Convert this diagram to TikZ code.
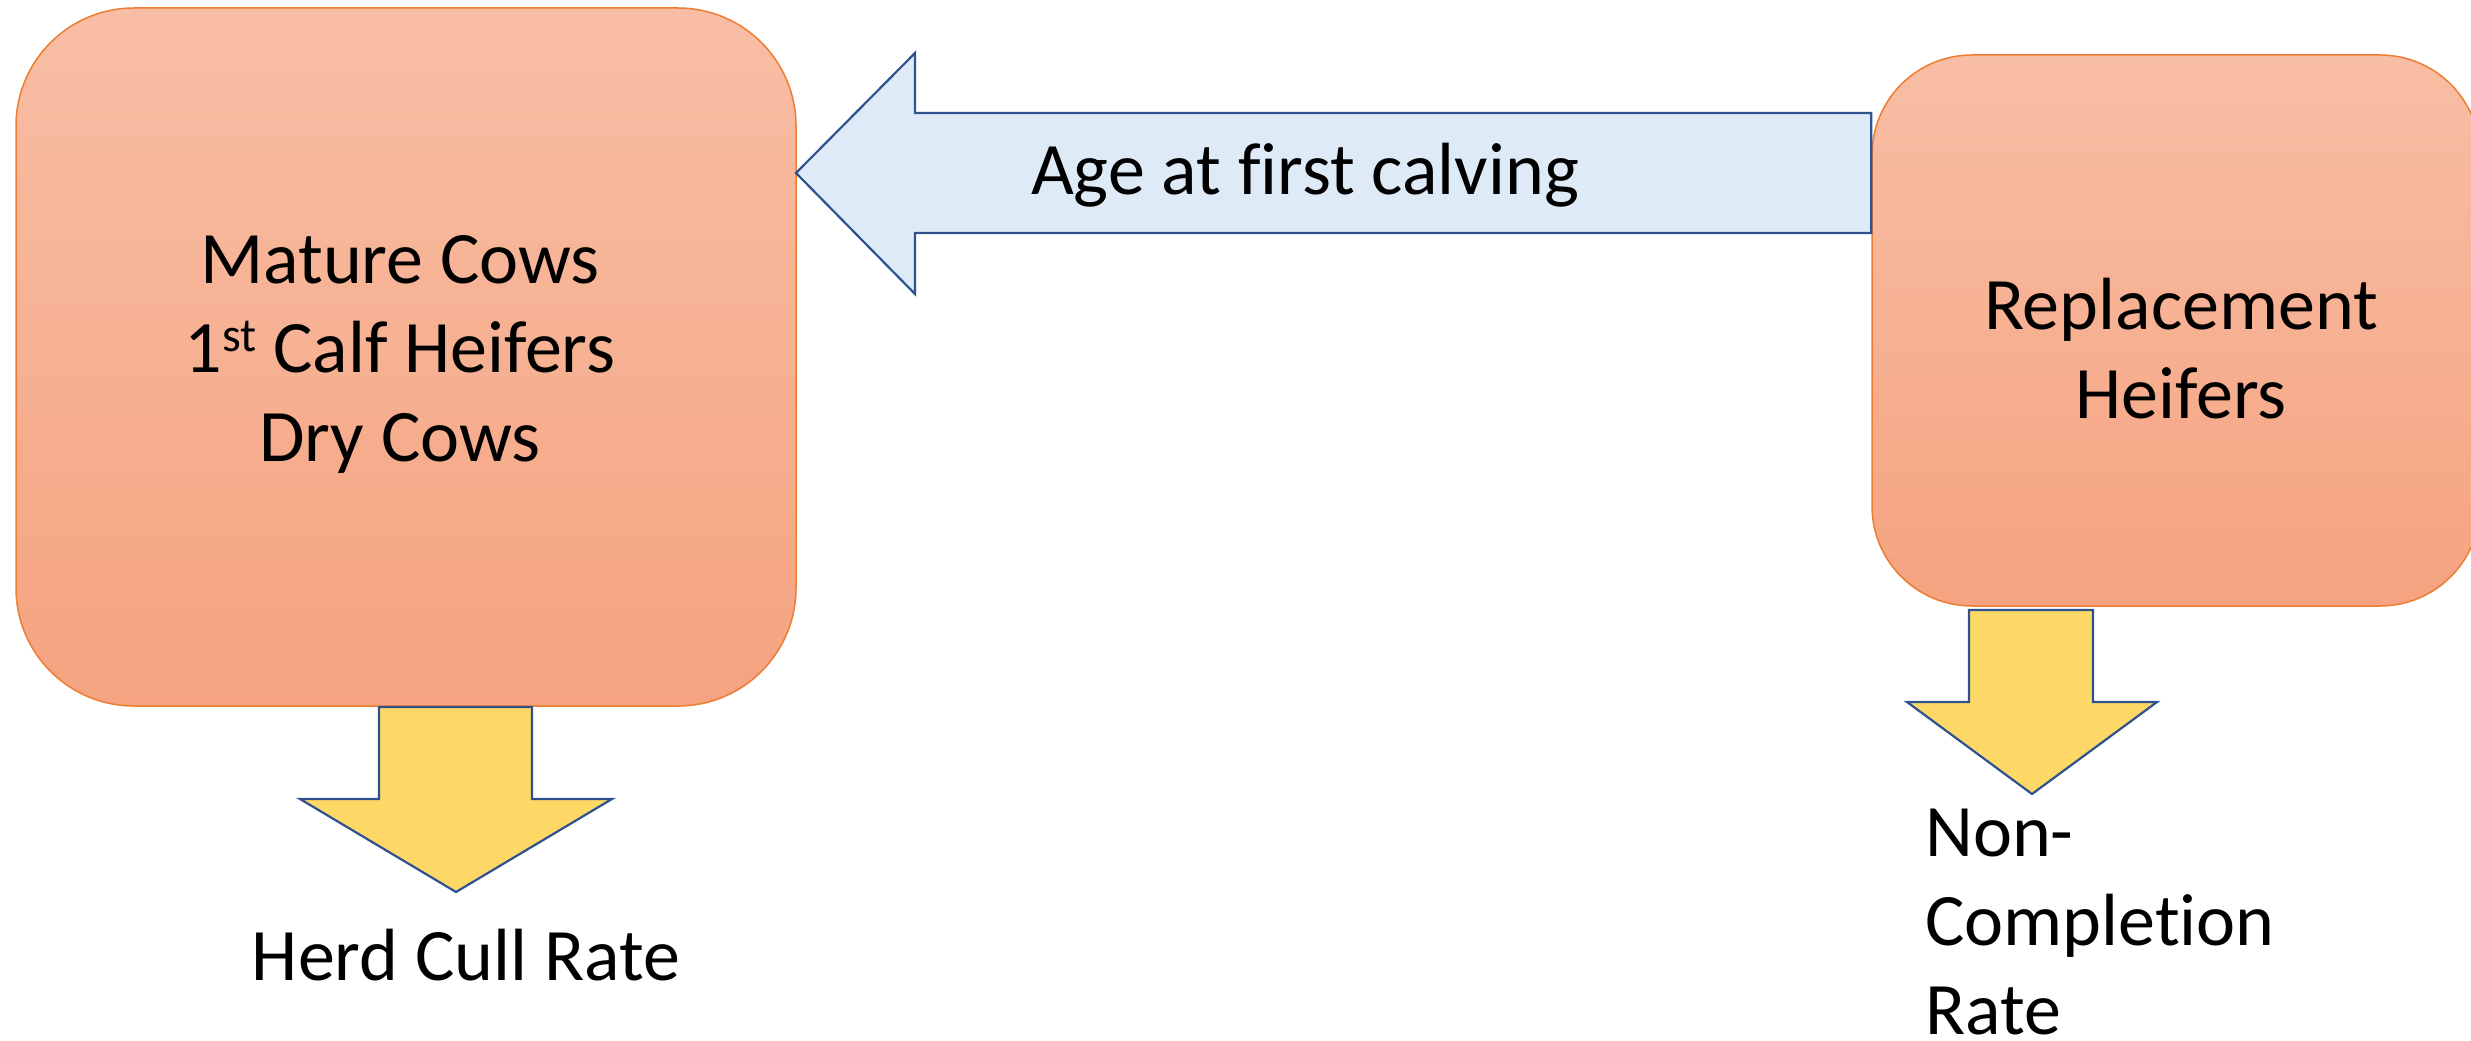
\documentclass[tikz,border=0pt]{standalone}
\usepackage{fontspec}
\setmainfont{Carlito}[Ligatures={NoCommon}]
\definecolor{boxtop}{RGB}{248,190,165}
\definecolor{boxbot}{RGB}{245,163,128}
\definecolor{boxline}{RGB}{237,125,49}
\definecolor{bluefill}{RGB}{222,235,247}
\definecolor{darkblue}{RGB}{47,82,143}
\definecolor{yellowfill}{RGB}{253,216,102}
\newcommand{\supst}{\raisebox{21pt}{\fontsize{48}{0}\selectfont st}}
\begin{document}
\begin{tikzpicture}[x=1pt,y=-1pt,
  herdbox/.style={draw=boxline, line width=1.5pt, top color=boxtop, bottom color=boxbot, inner sep=0pt},
  blockarrow/.style={draw=darkblue, line width=2.2pt, line join=miter},
  bluearrow/.style={blockarrow, fill=bluefill},
  yellowarrow/.style={blockarrow, fill=yellowfill},
  lbl/.style={font=\fontsize{74}{89}\selectfont, inner sep=0pt, text=black}]
\useasboundingbox (0,0) rectangle (2471,1041);
% boxes
\node[herdbox, minimum width=780pt, minimum height=698pt, rounded corners=118pt] (mature) at (406,357) {};
\node[herdbox, minimum width=608pt, minimum height=551pt, rounded corners=100pt] (repl) at (2176,330.5) {};
% named points of the block arrows
\coordinate (ageTip) at (796,173);
\coordinate (cullTip) at (456,892);
\coordinate (ncTip) at (2032,794);
% blue arrow: replacement heifers -> mature cows
\draw[bluearrow] (ageTip) -- (915,53) -- (915,113) -- (repl.west |- 0,113) -- (repl.west |- 0,233) -- (915,233) -- (915,294) -- cycle;
% yellow arrows
\draw[yellowarrow] (379,707) -- (532,707) -- (532,799) -- (612,799) -- (cullTip) -- (300,799) -- (379,799) -- cycle;
\draw[yellowarrow] (1969,610) -- (2093,610) -- (2093,702) -- (2157,702) -- (ncTip) -- (1907,702) -- (1969,702) -- cycle;
% texts
\node[lbl, align=center] (matureText) at (400,354) {Mature Cows\\1\supst{} Calf Heifers\\Dry Cows};
\node[lbl, align=center] (replText) at (2181,348.5) {Replacement\\Heifers};
\node[lbl, anchor=base] (ageText) at (1305,194) {Age at first calving};
\node[lbl, anchor=base] (cullText) at (466,980) {Herd Cull Rate};
\node[lbl, align=left, anchor=west] (ncText) at (1925,922) {Non-\\Completion\\Rate};
\end{tikzpicture}
\end{document}
